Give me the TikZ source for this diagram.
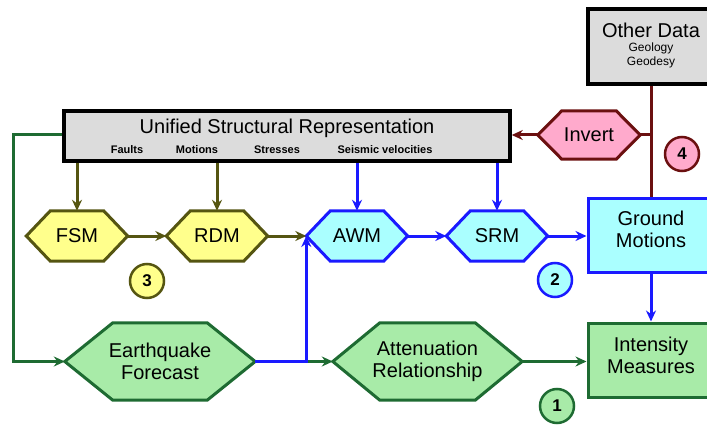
\documentclass[tikz,border=0pt]{standalone}
\usepackage{fontspec}
\setmainfont{Liberation Sans}
\usetikzlibrary{arrows.meta,backgrounds,calc}
\definecolor{boxgray}{HTML}{DCDCDC}
\definecolor{yelfill}{HTML}{FFFF8C}
\definecolor{olive}{HTML}{555511}
\definecolor{cyanfill}{HTML}{AAFFFF}
\definecolor{blueline}{HTML}{1A1AFF}
\definecolor{grnfill}{HTML}{A8EBA8}
\definecolor{grnline}{HTML}{1E6B32}
\definecolor{pinkfill}{HTML}{FFAACC}
\definecolor{darkred}{HTML}{6B1010}
\begin{document}
\begin{tikzpicture}[x=1pt,y=-1pt,
  bigfont/.style={font=\fontsize{20}{22}\selectfont},
  graybox/.style={draw=black,line width=3.5pt,fill=boxgray,inner sep=0pt},
  colbox/.style={draw=#1,line width=3pt,inner sep=0pt,minimum width=126pt,minimum height=74pt},
  hexnode/.style={inner sep=0pt,align=center,bigfont},
  txt/.style={inner sep=0pt,align=center},
  numcirc/.style={circle,draw=#1,line width=2.5pt,minimum size=34pt,inner sep=0pt,font=\fontsize{17}{17}\selectfont\bfseries},
  conn/.style={line width=3pt,draw=#1,-{Stealth[length=11pt,width=10pt]}},
  plain/.style={line width=3pt,draw=#1},
  hexyel/.style={draw=olive,fill=yelfill,line width=3pt},
  hexcyan/.style={draw=blueline,fill=cyanfill,line width=3pt},
  hexgrn/.style={draw=grnline,fill=grnfill,line width=3pt},
  hexpink/.style={draw=darkred,fill=pinkfill,line width=3pt}]
\useasboundingbox (0,0) rectangle (707,425);

% boxes
\node[graybox,minimum width=126pt,minimum height=75pt] (other) at (651,46.5) {};
\node[txt,bigfont] (othert) at (651,30) {Other Data};
\node[txt,font=\fontsize{12}{14}\selectfont] (otherg) at (651,55) {Geology\\Geodesy};

\node[graybox,minimum width=446pt,minimum height=50pt] (usr) at (287,136) {};
\node[txt,bigfont] (usrt) at (287,128) {Unified Structural Representation};
\node[txt,font=\fontsize{11}{11}\selectfont\bfseries] (s1) at (127,150) {Faults};
\node[txt,font=\fontsize{11}{11}\selectfont\bfseries] (s2) at (197,150) {Motions};
\node[txt,font=\fontsize{11}{11}\selectfont\bfseries] (s3) at (277,150) {Stresses};
\node[txt,font=\fontsize{11}{11}\selectfont\bfseries] (s4) at (385,150) {Seismic velocities};

\node[colbox=blueline,fill=cyanfill] (gm) at (651,235) {};
\node[txt,bigfont] (gmt) at (651,229) {Ground\\Motions};
\node[colbox=grnline,fill=grnfill] (im) at (651,360) {};
\node[txt,bigfont] (imt) at (651,355) {Intensity\\Measures};

% hexagon nodes
\node[hexnode,minimum width=102pt,minimum height=48pt] (invert) at (589,135) {Invert};
\node[hexnode,minimum width=101pt,minimum height=50pt] (fsm) at (77,236) {FSM};
\node[hexnode,minimum width=101pt,minimum height=50pt] (rdm) at (217,236) {RDM};
\node[hexnode,minimum width=101pt,minimum height=50pt] (awm) at (357,236) {AWM};
\node[hexnode,minimum width=101pt,minimum height=50pt] (srm) at (497,236) {SRM};
\node[hexnode,minimum width=190pt,minimum height=77pt] (ef) at (160,361.5) {Earthquake\\Forecast};
\node[hexnode,minimum width=189pt,minimum height=77pt] (att) at (427.5,361.5) {Attenuation\\Relationship};

\begin{pgfonlayer}{background}
\foreach \n/\d/\s in {invert/24/hexpink,fsm/24/hexyel,rdm/24/hexyel,awm/24/hexcyan,srm/24/hexcyan,ef/48/hexgrn,att/47/hexgrn}
  \draw[\s] (\n.west) -- ($(\n.north west)+(\d,0)$) -- ($(\n.north east)+(-\d,0)$) -- (\n.east) -- ($(\n.south east)+(-\d,0)$) -- ($(\n.south west)+(\d,0)$) -- cycle;
\end{pgfonlayer}

% circles
\node[numcirc=darkred,fill=pinkfill] (c4) at (682,154) {4};
\node[numcirc=olive,fill=yelfill] (c3) at (147,281) {3};
\node[numcirc=blueline,fill=cyanfill] (c2) at (555,280) {2};
\node[numcirc=grnline,fill=grnfill] (c1) at (557,406) {1};

% connectors
\coordinate (gl) at (13,135);
\draw[conn=grnline] (usr.west |- gl) -- (gl) |- (ef.west);
\coordinate (j) at (ef.east -| awm.west);
\draw[conn=grnline] (j) -- (att.west);
\draw[conn=blueline] (ef.east) -- (j) -- (awm.west);
\draw[conn=grnline] (att.east) -- (att.east -| im.west);
\draw[conn=blueline] (gm.south) -- (im.north);

\draw[conn=olive] (usr.south -| fsm.north) -- (fsm.north);
\draw[conn=olive] (usr.south -| rdm.north) -- (rdm.north);
\draw[conn=blueline] (usr.south -| awm.north) -- (awm.north);
\draw[conn=blueline] (usr.south -| srm.north) -- (srm.north);

\draw[conn=olive] (fsm.east) -- (rdm.west);
\draw[conn=olive] (rdm.east) -- (awm.west);
\draw[conn=blueline] (awm.east) -- (srm.west);
\draw[conn=blueline] (srm.east) -- (srm.east -| gm.west);

\draw[plain=darkred] (other.south) -- (gm.north);
\draw[plain=darkred] (invert.east) -- (invert.east -| other.south);
\draw[conn=darkred] (invert.west) -- (invert.west -| usr.east);
\end{tikzpicture}
\end{document}
